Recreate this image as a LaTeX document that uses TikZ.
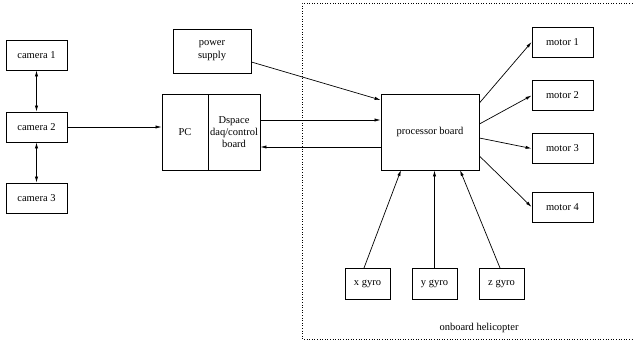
\documentclass[tikz,border=0pt]{standalone}
\usepackage{fontspec}
\setmainfont{Liberation Serif}
\usetikzlibrary{arrows.meta}
\begin{document}
\begin{tikzpicture}[x=1pt,y=-1pt,
  blk/.style={draw, line width=0.8pt, inner sep=0pt, font=\fontsize{10.5}{12}\selectfont, align=center},
  conn/.style={line width=0.7pt, -{Latex[length=6pt,width=3.2pt]}},
  bconn/.style={line width=0.7pt, {Latex[length=6pt,width=3.2pt]}-{Latex[length=6pt,width=3.2pt]}}]
\useasboundingbox (0,0) rectangle (634,343);
% onboard region
\draw[dotted, line width=0.6pt] (640,3) -- (302,3) -- (302,339) -- (640,339);
\node[font=\fontsize{10.5}{12}\selectfont] (lbl) at (479,328) {onboard helicopter};
% cameras
\node[blk, minimum width=61pt, minimum height=30pt] (c1) at (36.5,55) {camera 1};
\node[blk, minimum width=61pt, minimum height=30pt] (c2) at (36.5,127) {camera 2};
\node[blk, minimum width=61pt, minimum height=30pt] (c3) at (36.5,198) {camera 3};
% PC + Dspace
\node[blk, minimum width=46pt, minimum height=76pt] (pc) at (185,132) {PC};
\node[blk, minimum width=52pt, minimum height=76pt] (ds) at (234,132) {Dspace\\daq/control\\board};
% power supply
\node[blk, minimum width=78pt, minimum height=44pt] (ps) at (212,51) {power\\[1pt]supply};
% processor
\node[blk, minimum width=98pt, minimum height=76pt] (pb) at (430,132) {processor board};
% motors
\node[blk, minimum width=61pt, minimum height=30pt] (m1) at (562.5,42) {motor 1};
\node[blk, minimum width=61pt, minimum height=30pt] (m2) at (562.5,95.5) {motor 2};
\node[blk, minimum width=61pt, minimum height=30pt] (m3) at (562.5,148.5) {motor 3};
\node[blk, minimum width=61pt, minimum height=30pt] (m4) at (562.5,207) {motor 4};
% gyros
\node[blk, minimum width=45pt, minimum height=31pt] (gx) at (367.5,283.5) {x gyro};
\node[blk, minimum width=45pt, minimum height=31pt] (gy) at (434.5,283.5) {y gyro};
\node[blk, minimum width=45pt, minimum height=31pt] (gz) at (501.5,283.5) {z gyro};
% connectors
\draw[bconn] (c1.south) -- (c2.north);
\draw[bconn] (c2.south) -- (c3.north);
\draw[conn] (c2.east) -- (pc.west |- c2.east);
\draw[conn] (ds.east |- 0,120) -- (pb.west |- 0,120);
\draw[conn] (pb.west |- 0,147) -- (ds.east |- 0,147);
\draw[conn] (ps.east |- 0,62) -- (pb.west |- 0,100);
\draw[conn] (pb.east |- 0,103) -- (m1.west);
\draw[conn] (pb.east |- 0,124) -- (m2.west);
\draw[conn] (pb.east |- 0,138) -- (m3.west);
\draw[conn] (pb.east |- 0,156) -- (m4.west);
\draw[conn] (364,268) -- (401,170);
\draw[conn] (gy.north) -- (pb.south -| gy.north);
\draw[conn] (500,268) -- (460,170);
\end{tikzpicture}
\end{document}
